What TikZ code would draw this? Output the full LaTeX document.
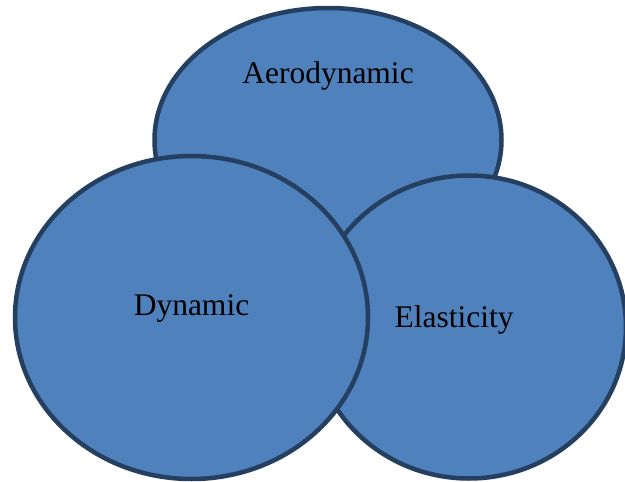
\documentclass[tikz,border=0pt]{standalone}
\usepackage{fontspec}
\setmainfont{Liberation Serif}
\usetikzlibrary{shapes.geometric}
\definecolor{bubblefill}{HTML}{4F81BD}
\definecolor{bubbleedge}{HTML}{243F60}
\tikzset{
  bubble/.style={ellipse, fill=bubblefill, draw=bubbleedge, line width=4.5pt, inner sep=0pt},
  bubbletext/.style={anchor=base, font=\rmfamily\fontsize{31.5}{38}\selectfont, inner sep=0pt}
}
\begin{document}
\begin{tikzpicture}[x=1pt,y=-1pt]
  \useasboundingbox (0,0) rectangle (625,482);
  % back to front
  \node[bubble, minimum width=347pt, minimum height=264pt] (aero) at (328,140) {};
  \node[bubble, minimum width=314pt, minimum height=303pt] (elas) at (469,327) {};
  \node[bubble, minimum width=353pt, minimum height=323pt] (dyn) at (191.5,317.5) {};

  \node[bubbletext] (aerotext) at (328,83) {Aerodynamic};
  \node[bubbletext] (elastext) at (454,327) {Elasticity};
  \node[bubbletext] (dyntext) at (191.5,315) {Dynamic};
\end{tikzpicture}
\end{document}
